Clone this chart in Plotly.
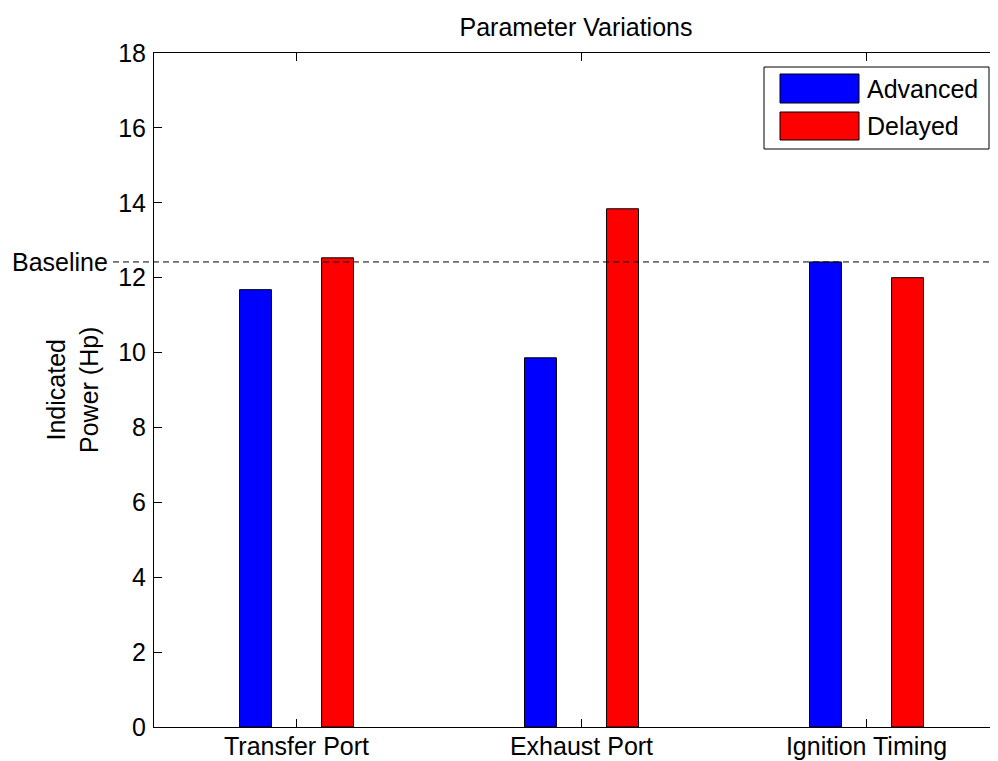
import plotly.graph_objects as go

# ---- data ----
categories = ["Transfer Port", "Exhaust Port", "Ignition Timing"]
advanced = [11.68, 9.86, 12.42]
delayed = [12.53, 13.84, 12.00]
baseline = 12.42
series_names = ["Advanced", "Delayed"]
y_ticks = [0, 2, 4, 6, 8, 10, 12, 14, 16, 18]

# ---- layout constants (screen pixels; page has an 8px body margin) ----
PAGE_OFF = 8
W, H = 998 - PAGE_OFF, 761 - PAGE_OFF
AX_L, AX_T, AX_B = 154, 53, 727          # axis edges in screen px
L = AX_L - PAGE_OFF
T = AX_T - PAGE_OFF
B = H - (AX_B - PAGE_OFF)
R = 0
PW, PH = W - L - R, H - T - B
FONT = "Liberation Sans, Arial, Helvetica, sans-serif"
FS = 25


def px_x(p):
    return (p - AX_L) / PW


def px_y(p):
    return (AX_B - p) / PH


xpos = [i + 1 for i in range(len(categories))]
bw = 0.112
off = 0.144

fig = go.Figure()
fig.add_trace(go.Bar(x=xpos, y=advanced, name=series_names[0], width=bw,
                     offset=-off - bw / 2,
                     marker=dict(color="#0000ff", line=dict(color="black", width=1)),
                     showlegend=False))
fig.add_trace(go.Bar(x=xpos, y=delayed, name=series_names[1], width=bw,
                     offset=off - bw / 2,
                     marker=dict(color="#ff0000", line=dict(color="black", width=1)),
                     showlegend=False))

shapes = []
# baseline dashed line
shapes.append(dict(type="line", xref="paper", yref="y", x0=px_x(113), x1=1.0,
                   y0=baseline, y1=baseline,
                   line=dict(color="black", width=1, dash="6px,4px")))
# legend box
shapes.append(dict(type="rect", xref="paper", yref="paper",
                   x0=px_x(764), x1=px_x(989), y0=px_y(149), y1=px_y(67),
                   line=dict(color="black", width=1), fillcolor="white"))
sw_colors = ["#0000ff", "#ff0000"]
sw_rows = [(74, 103), (112, 140)]
annotations = []
for name, col, (ya, yb) in zip(series_names, sw_colors, sw_rows):
    shapes.append(dict(type="rect", xref="paper", yref="paper",
                       x0=px_x(780), x1=px_x(859), y0=px_y(yb), y1=px_y(ya),
                       line=dict(color="black", width=1), fillcolor=col))
    annotations.append(dict(xref="paper", yref="paper", x=px_x(865), y=px_y((ya + yb) / 2),
                            text=name, showarrow=False, xanchor="left", yanchor="middle",
                            font=dict(family=FONT, size=FS, color="black")))

annotations.append(dict(xref="paper", yref="y", x=px_x(110), y=baseline,
                        text="Baseline", showarrow=False, xanchor="right", yanchor="middle",
                        font=dict(family=FONT, size=FS, color="black")))
annotations.append(dict(xref="paper", yref="paper", x=px_x(72), y=0.5,
                        text="Indicated<br>Power (Hp)", showarrow=False, textangle=-90,
                        xanchor="center", yanchor="middle",
                        font=dict(family=FONT, size=FS, color="black")))

fig.update_layout(
    width=W, height=H,
    margin=dict(l=L, r=R, t=T, b=B, pad=0),
    paper_bgcolor="white", plot_bgcolor="white",
    font=dict(family=FONT, size=FS, color="black"),
    title=dict(text="Parameter Variations", x=0.5, xref="paper", xanchor="center",
               y=1 - (27 - PAGE_OFF) / H, yref="container", yanchor="middle",
               font=dict(family=FONT, size=FS, color="black")),
    showlegend=False,
    shapes=shapes,
    annotations=annotations,
    xaxis=dict(range=[0.5, 0.5 + PW / 285.0], tickvals=xpos, ticktext=categories,
               ticks="inside", ticklen=8, tickcolor="black", tickwidth=1,
               ticklabelstandoff=-3,
               showline=True, linecolor="black", linewidth=1, mirror="ticks",
               showgrid=False, zeroline=False, automargin=False,
               tickfont=dict(family=FONT, size=FS, color="black")),
    yaxis=dict(range=[0, 18], tickvals=y_ticks, ticks="inside", ticklen=8,
               tickcolor="black", tickwidth=1, ticklabelstandoff=2,
               showline=True, linecolor="black", linewidth=1, mirror=False,
               showgrid=False, zeroline=False, automargin=False,
               tickfont=dict(family=FONT, size=FS, color="black")),
)

fig.write_html("out.html")
